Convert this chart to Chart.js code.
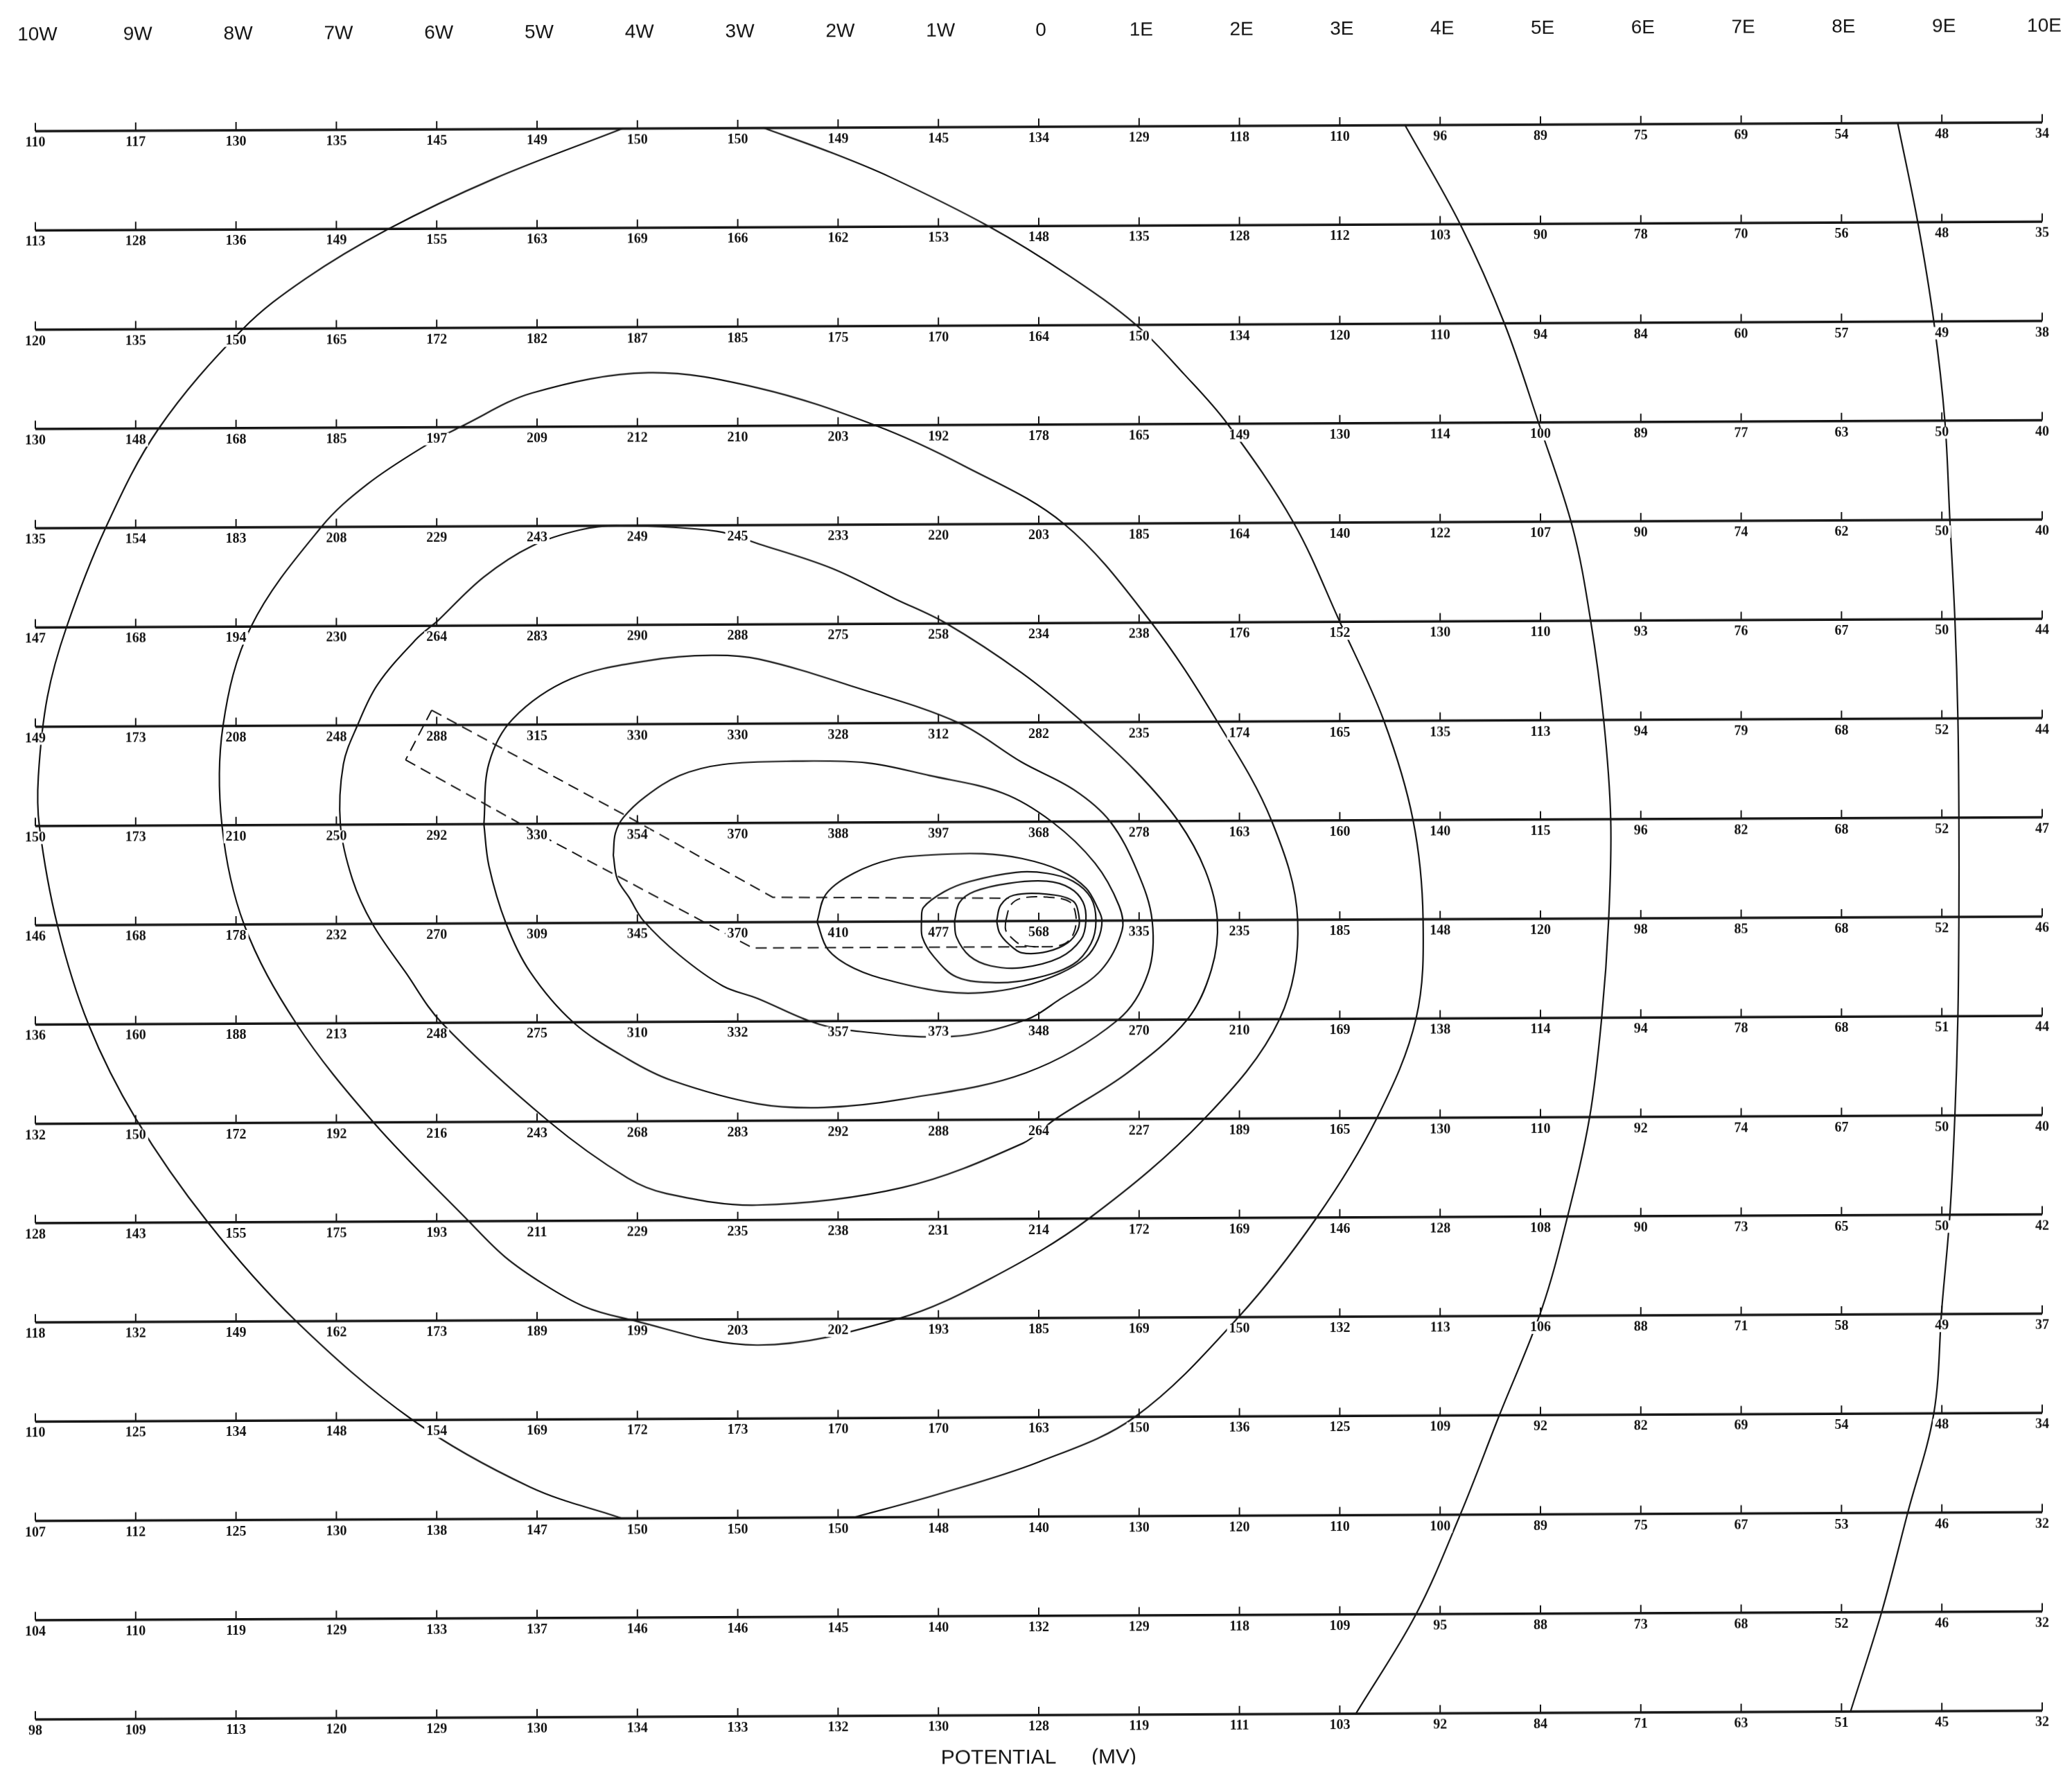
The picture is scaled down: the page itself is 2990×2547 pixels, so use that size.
<!DOCTYPE html>
<html>
<head>
<meta charset="utf-8">
<title>Potential (MV)</title>
<script src="https://cdn.jsdelivr.net/npm/chart.js@4.4.1/dist/chart.umd.min.js"></script>
<style>
  html, body { margin: 0; padding: 0; background: #ffffff; overflow: hidden; }
  #wrap { width: 2990px; height: 2547px; position: relative; }
  /* the survey sheet sits with a slight tilt: east end higher than west end */
  canvas { display: block; transform: skewY(-0.25deg); transform-origin: 1495px 1273px; }
</style>
</head>
<body>
<div id="wrap"><canvas id="chart" width="2990" height="2547"></canvas></div>
<script>
// Column headings, west to east
const columnLabels = ['10W','9W','8W','7W','6W','5W','4W','3W','2W','1W','0',
                      '1E','2E','3E','4E','5E','6E','7E','8E','9E','10E'];
const columnCoords = [-10,-9,-8,-7,-6,-5,-4,-3,-2,-1,0,1,2,3,4,5,6,7,8,9,10];

// Measured potential (MV) along each traverse line, top to bottom
const traverse1  = [110,117,130,135,145,149,150,150,149,145,134,129,118,110, 96, 89, 75, 69, 54, 48, 34];
const traverse2  = [113,128,136,149,155,163,169,166,162,153,148,135,128,112,103, 90, 78, 70, 56, 48, 35];
const traverse3  = [120,135,150,165,172,182,187,185,175,170,164,150,134,120,110, 94, 84, 60, 57, 49, 38];
const traverse4  = [130,148,168,185,197,209,212,210,203,192,178,165,149,130,114,100, 89, 77, 63, 50, 40];
const traverse5  = [135,154,183,208,229,243,249,245,233,220,203,185,164,140,122,107, 90, 74, 62, 50, 40];
const traverse6  = [147,168,194,230,264,283,290,288,275,258,234,238,176,152,130,110, 93, 76, 67, 50, 44];
const traverse7  = [149,173,208,248,288,315,330,330,328,312,282,235,174,165,135,113, 94, 79, 68, 52, 44];
const traverse8  = [150,173,210,250,292,330,354,370,388,397,368,278,163,160,140,115, 96, 82, 68, 52, 47];
const traverse9  = [146,168,178,232,270,309,345,370,410,477,568,335,235,185,148,120, 98, 85, 68, 52, 46];
const traverse10 = [136,160,188,213,248,275,310,332,357,373,348,270,210,169,138,114, 94, 78, 68, 51, 44];
const traverse11 = [132,150,172,192,216,243,268,283,292,288,264,227,189,165,130,110, 92, 74, 67, 50, 40];
const traverse12 = [128,143,155,175,193,211,229,235,238,231,214,172,169,146,128,108, 90, 73, 65, 50, 42];
const traverse13 = [118,132,149,162,173,189,199,203,202,193,185,169,150,132,113,106, 88, 71, 58, 49, 37];
const traverse14 = [110,125,134,148,154,169,172,173,170,170,163,150,136,125,109, 92, 82, 69, 54, 48, 34];
const traverse15 = [107,112,125,130,138,147,150,150,150,148,140,130,120,110,100, 89, 75, 67, 53, 46, 32];
const traverse16 = [104,110,119,129,133,137,146,146,145,140,132,129,118,109, 95, 88, 73, 68, 52, 46, 32];
const traverse17 = [ 98,109,113,120,129,130,134,133,132,130,128,119,111,103, 92, 84, 71, 63, 51, 45, 32];
const traverses = [traverse1,traverse2,traverse3,traverse4,traverse5,traverse6,traverse7,traverse8,
                   traverse9,traverse10,traverse11,traverse12,traverse13,traverse14,traverse15,
                   traverse16,traverse17];

// Equipotential contours as [column, line] pairs
const contour50 = [[8.56,1],[8.76,2],[8.92,3],[9.03,4],[9.08,5],[9.13,6],[9.16,7],[9.17,8],[9.17,9],
  [9.16,10],[9.13,11],[9.08,12],[9.0,12.94],[8.92,14],[8.66,15],[8.40,16],[8.09,17]];
const contour100 = [[3.65,1],[4.20,2],[4.64,3],[4.98,4],[5.32,5.06],[5.50,6],[5.63,7],[5.70,8],[5.68,9],
  [5.61,10],[5.49,11],[5.27,12],[5.01,12.94],[4.59,14],[4.20,15],[3.76,16],[3.16,17]];
// the 150 line runs along traverses 1 and 15 between its two arcs
const contour150West = [[-4.15,1],[-5.43,1.5],[-6.48,2],[-7.31,2.5],[-7.93,3],[-8.77,4],[-9.3,5],[-9.69,6],
  [-9.88,6.7],[-9.97,7.5],[-9.96,8.0],[-9.78,9.0],[-9.47,10],[-9.0,10.95],[-8.28,12],[-7.40,13],[-6.24,14],
  [-5.07,14.68],[-4.15,15]];
const contour150East = [[-2.74,1.0],[-2.07,1.25],[-1.48,1.5],[-0.5,2.0],[0.3,2.5],[0.97,3.0],[1.45,3.5],
  [1.88,4.0],[2.54,5.0],[3.0,6.0],[3.44,7.0],[3.73,8.0],[3.83,9.0],[3.76,10.0],[3.37,11.0],[2.77,12.0],
  [1.99,13.0],[0.96,14.0],[0.0,14.45],[-1.0,14.77],[-1.84,15.0]];
const contour200 = [[-5.77,4.0],[-5.05,3.66],[-3.89,3.46],[-2.79,3.62],[-1.63,4.0],[-0.75,4.41],[0.25,5.0],
  [1.10,5.97],[1.78,7.0],[2.32,8.0],[2.58,9.0],[2.40,10.0],[1.65,11.0],[0.50,12.0],[-0.48,12.6],[-1.40,13.0],
  [-2.81,13.26],[-4.15,12.98],[-4.54,12.86],[-4.93,12.64],[-5.32,12.36],[-5.68,12.0],[-6.63,11.0],
  [-7.40,10.0],[-7.92,9.0],[-8.14,8.0],[-8.13,7.0],[-7.85,6.0],[-7.15,5.0],[-6.69,4.57],[-6.09,4.17],
  [-5.77,4.0]];
const contour250 = [[-5.99,5.95],[-5.53,5.51],[-5.05,5.2],[-4.57,5.04],[-4.18,5.0],[-3.21,5.06],[-2.79,5.19],
  [-2.06,5.44],[-1.43,5.75],[-0.92,6.0],[-0.17,6.5],[0.44,7.0],[0.97,7.5],[1.39,8.0],[1.66,8.5],[1.78,9.0],
  [1.72,9.5],[1.48,10.0],[0.89,10.53],[0.16,11.0],[-0.16,11.24],[-1.36,11.68],[-2.81,11.85],[-3.71,11.73],
  [-4.10,11.57],[-4.88,11.0],[-5.95,10.0],[-6.31,9.49],[-6.64,9.0],[-6.84,8.55],[-6.96,8.0],[-6.93,7.39],
  [-6.79,7.0],[-6.59,6.59],[-6.21,6.14],[-5.99,5.95]];
const contour300 = [[-5.53,8.0],[-5.48,7.39],[-5.24,6.94],[-4.66,6.54],[-3.89,6.36],[-3.26,6.31],[-2.79,6.35],
  [-1.82,6.64],[-0.80,7.0],[-0.17,7.40],[0.35,7.68],[0.71,8.0],[0.98,8.5],[1.13,9.0],[1.09,9.53],[0.79,10.0],
  [-0.13,10.53],[-1.36,10.79],[-2.14,10.87],[-2.80,10.83],[-3.66,10.59],[-4.10,10.37],[-4.64,10.0],
  [-5.07,9.49],[-5.31,9.0],[-5.48,8.42],[-5.53,8.0]];
const contour350 = [[-4.24,8.32],[-4.22,8.1],[-4.14,7.94],[-3.92,7.73],[-3.58,7.52],[-3.15,7.41],[-2.45,7.38],
  [-1.71,7.40],[-1.09,7.53],[-0.36,7.71],[0.13,8.0],[0.56,8.42],[0.80,8.85],[0.83,9.1],[0.62,9.5],
  [0.21,9.79],[-0.14,10.0],[-0.87,10.16],[-1.92,10.09],[-2.28,10.0],[-2.80,9.77],[-3.15,9.64],[-3.58,9.33],
  [-3.94,8.98],[-4.08,8.75],[-4.20,8.56],[-4.24,8.32]];
const contour400 = [[-2.21,9.0],[-2.12,8.72],[-1.84,8.51],[-1.46,8.37],[-1.07,8.33],[-0.56,8.32],[-0.17,8.37],
  [0.21,8.49],[0.47,8.67],[0.59,8.88],[0.63,9.0],[0.59,9.19],[0.47,9.37],[0.21,9.53],[-0.17,9.66],
  [-0.56,9.72],[-0.94,9.71],[-1.46,9.60],[-1.84,9.47],[-2.10,9.28],[-2.21,9.0]];
const contour450 = [[-1.17,9.0],[-1.15,8.86],[-0.94,8.70],[-0.69,8.60],[-0.23,8.51],[0.08,8.52],[0.34,8.60],
  [0.52,8.77],[0.57,9.0],[0.52,9.23],[0.34,9.44],[-0.05,9.58],[-0.43,9.62],[-0.82,9.56],[-1.05,9.35],
  [-1.16,9.16],[-1.17,9.0]];
const contour500 = [[-0.84,9.0],[-0.79,8.81],[-0.64,8.70],[-0.30,8.62],[0.08,8.60],[0.31,8.67],[0.44,8.81],
  [0.47,9.0],[0.42,9.19],[0.21,9.37],[-0.17,9.47],[-0.48,9.45],[-0.69,9.35],[-0.82,9.16],[-0.84,9.0]];
const contour550 = [[-0.42,9.0],[-0.38,8.84],[-0.25,8.74],[0.08,8.73],[0.34,8.80],[0.40,8.95],[0.39,9.09],
  [0.29,9.22],[0.08,9.31],[-0.17,9.32],[-0.30,9.23],[-0.39,9.12],[-0.42,9.0]];
const solidContours = [contour50, contour100, contour150West, contour150East, contour200, contour250,
                       contour300, contour350, contour400, contour450, contour500, contour550];

// Dashed outline of the high-potential channel and its core
const channelUpper = [[-6.05,6.85],[-4.08,7.94],[-2.65,8.75],[-1.5,8.76],[-0.30,8.77]];
const channelLower = [[-6.31,7.35],[-4.88,8.16],[-2.85,9.26],[-1.5,9.26],[0.0,9.26]];
const channelCap = [[-6.05,6.85],[-6.31,7.35]];
const channelCore = [[-0.33,9.0],[-0.28,8.84],[-0.17,8.77],[0.08,8.76],[0.31,8.81],[0.37,8.95],[0.35,9.12],
  [0.26,9.23],[0.08,9.26],[-0.17,9.24],[-0.28,9.16],[-0.33,9.09],[-0.33,9.0]];
const dashedOutlines = [channelUpper, channelLower, channelCap, channelCore];

const toXY = pairs => pairs.map(([x, y]) => ({ x, y }));
const INK = '#141414';

const datasets = [];
traverses.forEach((vals, i) => {
  datasets.push({
    data: [{ x: columnCoords[0], y: i + 1 }, { x: columnCoords[columnCoords.length - 1], y: i + 1 }],
    showLine: true, borderColor: INK, borderWidth: 3.4, pointRadius: 0, tension: 0
  });
});
solidContours.forEach(c => {
  datasets.push({
    data: toXY(c), showLine: true, borderColor: INK, borderWidth: 2.2,
    pointRadius: 0, tension: 0.35, borderCapStyle: 'round', borderJoinStyle: 'round'
  });
});
dashedOutlines.forEach((c, k) => {
  datasets.push({
    data: toXY(c), showLine: true, borderColor: INK, borderWidth: 2,
    pointRadius: 0, tension: k === 3 ? 0.35 : 0, borderDash: [16, 9]
  });
});

// Station ticks, station values, column headings and caption
const annotate = {
  id: 'annotate',
  afterDatasetsDraw(chart) {
    const { ctx, scales: { x, y } } = chart;
    ctx.save();
    // ticks above each traverse line
    ctx.strokeStyle = INK;
    ctx.lineWidth = 2;
    traverses.forEach((vals, i) => {
      const py = y.getPixelForValue(i + 1);
      columnCoords.forEach(c => {
        const px = x.getPixelForValue(c);
        ctx.beginPath();
        ctx.moveTo(px, py);
        ctx.lineTo(px, py - 12);
        ctx.stroke();
      });
    });
    // station values below the ticks
    ctx.font = 'bold 20px "Liberation Serif", "DejaVu Serif", serif';
    ctx.textAlign = 'center';
    ctx.textBaseline = 'middle';
    traverses.forEach((vals, i) => {
      const py = y.getPixelForValue(i + 1) + 17;
      vals.forEach((v, j) => {
        const px = x.getPixelForValue(columnCoords[j]);
        const t = String(v);
        const w = ctx.measureText(t).width;
        ctx.fillStyle = '#ffffff';
        ctx.fillRect(px - w / 2 - 3, py - 9, w + 6, 18);
        ctx.fillStyle = INK;
        ctx.fillText(t, px, py);
      });
    });
    // column headings
    ctx.font = '28px "Liberation Sans", Arial, sans-serif';
    columnLabels.forEach((lab, j) => {
      ctx.fillText(lab, x.getPixelForValue(columnCoords[j]) + 3, 44);
    });
    // caption
    ctx.font = '30px "Liberation Sans", Arial, sans-serif';
    const capY = chart.chartArea.bottom + 62;
    ctx.fillText('POTENTIAL', x.getPixelForValue(-0.4), capY);
    ctx.fillText('(MV)', x.getPixelForValue(0.75), capY);
    ctx.restore();
  }
};

new Chart(document.getElementById('chart'), {
  type: 'scatter',
  data: { datasets },
  options: {
    responsive: false,
    animation: false,
    devicePixelRatio: 1,
    events: [],
    layout: { padding: { left: 51, right: 43, top: 183, bottom: 72 } },
    scales: {
      x: { type: 'linear', min: -10, max: 10, display: false },
      y: { type: 'linear', min: 1, max: 17, reverse: true, display: false }
    },
    plugins: { legend: { display: false }, tooltip: { enabled: false }, title: { display: false } },
    elements: { line: { fill: false } },
    datasets: { scatter: { clip: false } }
  },
  plugins: [annotate]
});
</script>
</body>
</html>
